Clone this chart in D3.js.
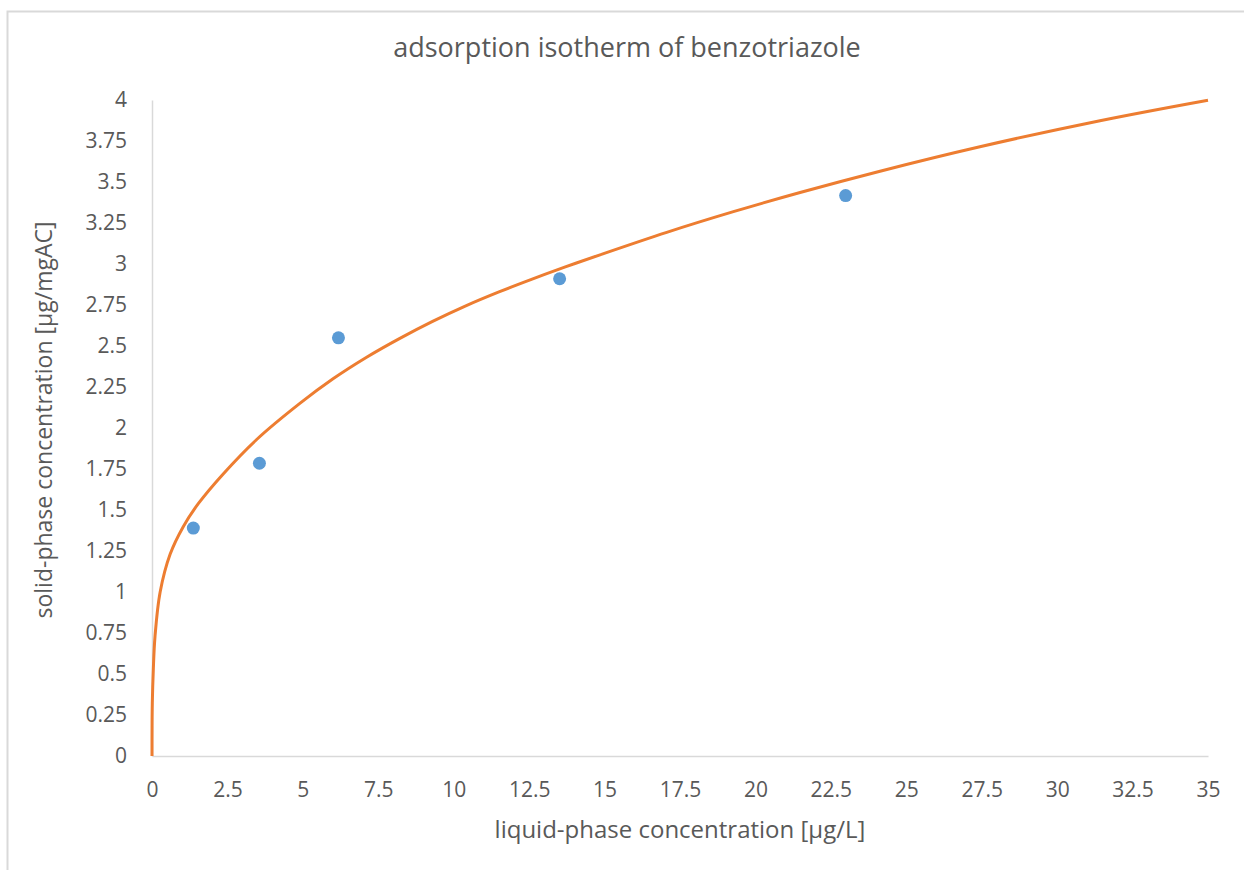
<!DOCTYPE html>
<html>
<head>
<meta charset="utf-8">
<script src="https://cdn.jsdelivr.net/npm/d3@7"></script>
<style>
  html, body { margin: 0; padding: 0; background: #fff; }
  svg { display: block; font-family: "Open Sans", sans-serif; }
</style>
</head>
<body>
<div id="chart"></div>
<script>
// measured points (liquid-phase vs solid-phase concentration)
const pointX = [1.37, 3.56, 6.18, 13.51, 22.99];
const pointY = [1.39, 1.785, 2.55, 2.91, 3.417];

// fitted isotherm curve
const curveX = [0, 0.002, 0.01, 0.044, 0.10, 0.27, 0.60, 1.04, 1.54, 2.36, 3.47, 4.9, 6.0, 7.1, 8.2, 9.3, 10.4, 11.5, 12.6, 13.7, 14.85, 17.06, 19.27, 21.48, 24.13, 27.44, 31.42, 35];
const curveY = [0, 0.18, 0.32, 0.53, 0.73, 1.00, 1.23, 1.40, 1.54, 1.72, 1.93, 2.15, 2.30, 2.43, 2.545, 2.65, 2.745, 2.83, 2.908, 2.982, 3.056, 3.193, 3.319, 3.436, 3.566, 3.715, 3.874, 3.999];

const xTicks = d3.range(0, 35.01, 2.5);
const yTicks = d3.range(0, 4.01, 0.25);

const title = "adsorption isotherm of benzotriazole";
const xTitle = "liquid-phase concentration [µg/L]";
const yTitle = "solid-phase concentration [µg/mgAC]";

const width = 1244, height = 870;
const margin = { left: 152, right: 36, top: 100, bottom: 114 };

const svg = d3.select("#chart").append("svg")
    .attr("width", width)
    .attr("height", height);

// chart border (only left and top visible in the crop)
svg.append("path")
    .attr("d", `M7.5,${height} V11.5 H${width}`)
    .attr("fill", "none")
    .attr("stroke", "#d9d9d9")
    .attr("stroke-width", 2);

const x = d3.scaleLinear()
    .domain([0, 35])
    .range([margin.left, width - margin.right]);

const y = d3.scaleLinear()
    .domain([0, 4])
    .range([height - margin.bottom, margin.top]);

// X axis
const xAxis = svg.append("g")
    .attr("transform", `translate(0,${y(0)})`)
    .call(d3.axisBottom(x).tickValues(xTicks).tickSize(0).tickPadding(26)
        .tickFormat(d => d3.format("~g")(d)));
xAxis.select(".domain").attr("stroke", "#d9d9d9").attr("stroke-width", 1.5);
xAxis.selectAll("text")
    .attr("fill", "#595959")
    .style("font-size", "21px")
    .style("font-family", "'Open Sans', sans-serif");

// Y axis
const yAxis = svg.append("g")
    .attr("transform", `translate(${x(0)},0)`)
    .call(d3.axisLeft(y).tickValues(yTicks).tickSize(0).tickPadding(25)
        .tickFormat(d => d3.format("~g")(d)));
yAxis.select(".domain").attr("stroke", "#d9d9d9").attr("stroke-width", 1.5);
yAxis.selectAll("text")
    .attr("fill", "#595959")
    .style("font-size", "21px")
    .style("font-family", "'Open Sans', sans-serif");

// curve
const line = d3.line()
    .x((d, i) => x(curveX[i]))
    .y(d => y(d))
    .curve(d3.curveCatmullRom.alpha(0.5));

svg.append("path")
    .datum(curveY)
    .attr("fill", "none")
    .attr("stroke", "#ED7D31")
    .attr("stroke-width", 3)
    .attr("stroke-linejoin", "round")
    .attr("d", line);

// points
svg.selectAll("circle.pt")
    .data(pointX)
    .join("circle")
    .attr("class", "pt")
    .attr("cx", d => x(d))
    .attr("cy", (d, i) => y(pointY[i]))
    .attr("r", 6.5)
    .attr("fill", "#5B9BD5");

// titles
svg.append("text")
    .attr("x", 627)
    .attr("y", 50)
    .attr("text-anchor", "middle")
    .attr("dominant-baseline", "middle")
    .attr("fill", "#595959")
    .style("font-size", "27px")
    .text(title);

svg.append("text")
    .attr("x", (x(0) + x(35)) / 2)
    .attr("y", 832)
    .attr("text-anchor", "middle")
    .attr("dominant-baseline", "middle")
    .attr("fill", "#595959")
    .style("font-size", "24px")
    .text(xTitle);

svg.append("text")
    .attr("transform", `translate(46,420) rotate(-90)`)
    .attr("text-anchor", "middle")
    .attr("dominant-baseline", "middle")
    .attr("fill", "#595959")
    .style("font-size", "23px")
    .text(yTitle);
</script>
</body>
</html>
